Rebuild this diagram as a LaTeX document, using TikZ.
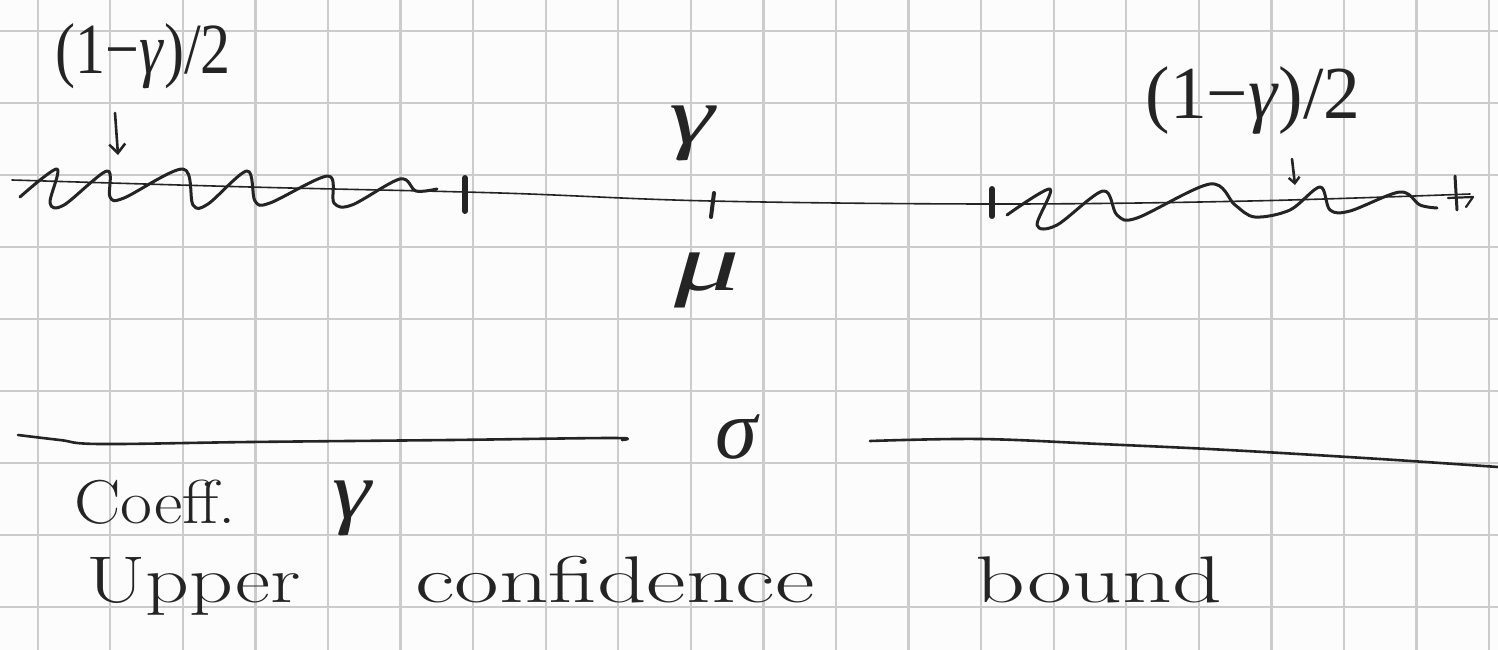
\documentclass[tikz,border=0pt]{standalone}
\usepackage{fontspec}
\newfontfamily\grk{Liberation Serif}
\usetikzlibrary{arrows.meta}
\definecolor{paper}{RGB}{252,252,252}
\definecolor{gridc}{RGB}{204,204,204}
\definecolor{ink}{RGB}{36,36,36}
\tikzset{
  gridline/.style={draw=gridc, line width=2.2pt},
  pen/.style={draw=ink, line width=3pt, line cap=round, line join=round},
  thinpen/.style={draw=ink, line width=1.6pt, line cap=round, line join=round},
  lbl/.style={text=ink, inner sep=0pt},
  handarrow/.style={pen, line width=2.6pt, -{Straight Barb[length=9pt,width=16pt,line width=2.6pt]}},
}
\begin{document}
\begin{tikzpicture}[x=1pt,y=-1pt]
\useasboundingbox (0,0) rectangle (1498,650);
\fill[paper] (0,0) rectangle (1498,650);
% grid paper
\foreach \i in {0,...,20} \draw[gridline] ({37.7+72.57*\i},0) -- ({37.7+72.57*\i},650);
\foreach \j in {0,...,8} \draw[gridline] (0,{31+72.04*\j}) -- (1498,{31+72.04*\j});

% axis line
\draw[thinpen] plot[smooth, tension=0.6] coordinates {(12,180) (250,187) (500,193) (711,201) (1000,204) (1250,201) (1470,194)};
% right end mark
\draw[pen] (1455,176) -- (1457,210);
\draw[thinpen, line width=2.2pt] (1448,198) -- (1473,197) -- (1466,207);

% left wavy region
\draw[pen] plot[smooth, tension=0.55] coordinates {(20,197) (57,169) (50,203) (64,205) (107,171) (110,197) (124,198) (183,169) (193,205) (208,204) (247,171) (255,201) (270,203) (328,176) (334,203) (352,205) (400,179) (416,191) (437,189)};
% right wavy region
\draw[pen] plot[smooth, tension=0.55] coordinates {(1007,215) (1050,189) (1037,225) (1057,225) (1103,191) (1117,215) (1137,218) (1210,184) (1235,205) (1255,217) (1290,210) (1320,187) (1330,210) (1350,211) (1400,192) (1420,205) (1437,208)};

% ticks
\draw[pen, line width=6pt] (465,178) -- (465,211);
\draw[pen, line width=4pt] (714,193) -- (711,217);
\draw[pen, line width=6pt] (992,189) -- (992,216);

% labels on the axis
\node[lbl, font=\grk\fontsize{60}{66}\selectfont] (lblL) at (143,56) {\scalebox{1}[1.2]{(1−\textit{γ})/2}};
\node[lbl, font=\grk\fontsize{68}{74}\selectfont] (lblR) at (1253,101) {\scalebox{1.08}[1.1]{(1−\textit{γ})/2}};
\node[lbl, font=\grk\itshape\fontsize{82}{90}\selectfont] (gam) at (692,133) {\scalebox{1.4}[1]{γ}};
\node[lbl, font=\grk\itshape\fontsize{82}{90}\selectfont] (mu) at (707,280) {\scalebox{1.6}[1]{μ}};

% arrows from the labels to the tails
\coordinate (aL1) at (115,113);
\coordinate (aL2) at (118,155);
\draw[handarrow] (aL1) -- (aL2);
\coordinate (aR1) at (1292,159);
\coordinate (aR2) at (1295,185);
\draw[handarrow, -{Straight Barb[length=6pt,width=11pt,line width=2.4pt]}] (aR1) -- (aR2);

% bottom lines and sigma
\draw[pen, line width=2.6pt] plot[smooth, tension=0.6] coordinates {(18,435) (60,440) (100,444) (250,442) (450,440) (612,438) (622,440)};
\node[lbl, font=\grk\itshape\fontsize{85}{95}\selectfont] (sig) at (736,437) {σ};
\draw[pen, line width=2.6pt] plot[smooth, tension=0.6] coordinates {(870,441) (980,439) (1100,444) (1228,450) (1380,459) (1498,467)};

% text
\node[lbl, anchor=base west, font=\fontsize{62}{70}\selectfont] (coeff) at (74,523) {\scalebox{1.12}[1]{Coeff.}};
\node[lbl, font=\grk\itshape\fontsize{82}{90}\selectfont] (gam2) at (352,508) {\scalebox{1.2}[1]{γ}};
\node[lbl, anchor=base west, font=\fontsize{66}{74}\selectfont] (upper) at (86,602) {\scalebox{1.3}[1]{Upper}};
\node[lbl, anchor=base west, font=\fontsize{66}{74}\selectfont] (conf) at (415,602) {\scalebox{1.47}[1]{confidence}};
\node[lbl, anchor=base west, font=\fontsize{66}{74}\selectfont] (bound) at (975,602) {\scalebox{1.48}[1]{bound}};
\end{tikzpicture}
\end{document}
